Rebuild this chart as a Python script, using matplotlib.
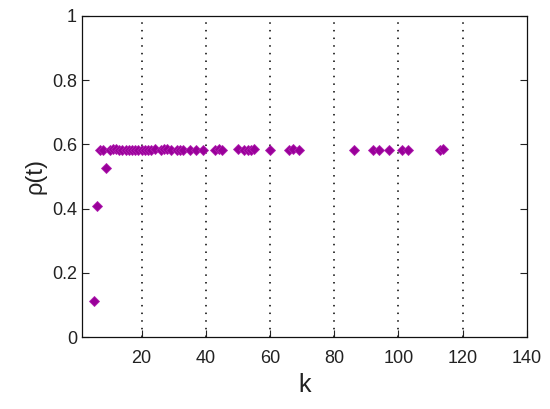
import matplotlib
matplotlib.use("Agg")
import matplotlib.pyplot as plt
import numpy as np

# data
k = [5, 6, 7, 8, 9, 10, 11, 12, 13, 14, 15, 16, 17, 18, 19, 20, 21, 22, 23, 24,
     26, 27, 28, 29, 31, 32, 33, 35, 37, 39, 43, 44, 45, 50, 52, 53, 54, 55,
     60, 66, 67, 69, 86, 92, 94, 97, 101, 103, 113, 114]
rho = [0.113, 0.408, 0.582, 0.583, 0.525, 0.583, 0.585, 0.586, 0.584, 0.583,
       0.583, 0.582, 0.582, 0.583, 0.582, 0.583, 0.582, 0.583, 0.584, 0.585,
       0.584, 0.586, 0.585, 0.584, 0.583, 0.584, 0.583, 0.582, 0.583, 0.582,
       0.583, 0.586, 0.584, 0.585, 0.584, 0.583, 0.584, 0.585, 0.582, 0.584,
       0.586, 0.583, 0.582, 0.582, 0.583, 0.583, 0.582, 0.582, 0.583, 0.587]
xticks = [20, 40, 60, 80, 100, 120, 140]
yticks = [0, 0.2, 0.4, 0.6, 0.8, 1]

plt.rcParams['font.family'] = ['Liberation Sans', 'DejaVu Sans']

fig = plt.figure(figsize=(5.5, 4.09), dpi=100)
ax = fig.add_axes([0.149, 0.176, 0.809, 0.785])

ax.plot(k, rho, linestyle='none', marker='D', markersize=5.3,
        color='#990099', markeredgecolor='#b020b0', markeredgewidth=0.6)

ax.set_xlim(1.4, 140)
ax.set_ylim(0, 1)
ax.set_xticks(xticks)
ax.set_yticks(yticks)
ax.set_yticklabels(['0', '0.2', '0.4', '0.6', '0.8', '1'])
ax.xaxis.grid(True, linestyle=(0, (1, 4)), color='black', linewidth=1.1)
# the grid line at the right edge sits under the box in the original
ax.get_xgridlines()[-1].set_visible(False)
ax.tick_params(direction='in', length=5, width=0.8, labelsize=13,
               colors='#222222', top=False, right=True)
ax.tick_params(axis='x', pad=9)
for s in ax.spines.values():
    s.set_linewidth(0.9)
    s.set_color('#111111')

ax.set_xlabel('k', fontsize=18, color='#222222', labelpad=5)
ax.set_ylabel('ρ(t)', fontsize=17, color='#222222', labelpad=4)

fig.savefig('out.png', dpi=100)
